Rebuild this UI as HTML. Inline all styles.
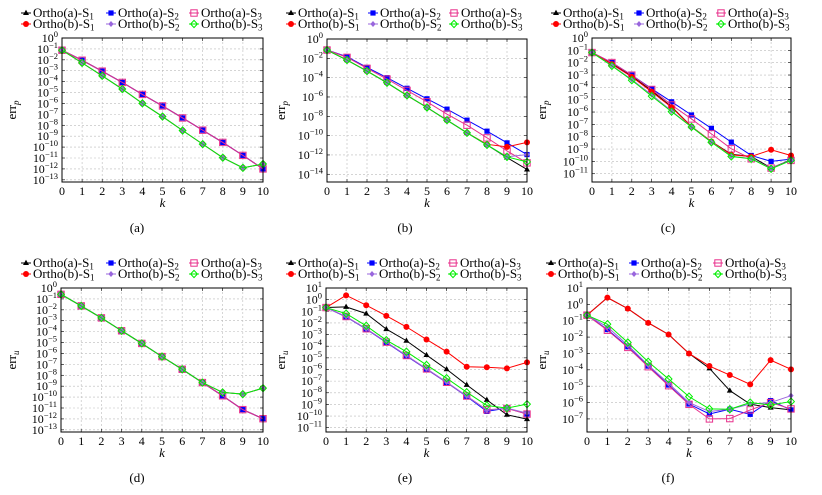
<!DOCTYPE html>
<html><head><meta charset="utf-8"><style>
html,body{margin:0;padding:0;background:#fff;}
svg, svg text{font-family:"Liberation Serif","DejaVu Serif",serif;}
</style></head><body>
<svg id="fig" width="822" height="490" viewBox="0 0 822 490" xmlns="http://www.w3.org/2000/svg" font-family="Liberation Serif, serif"></svg>
<script>
const kValues=[0,1,2,3,4,5,6,7,8,9,10];
const seriesNames=["Ortho(a)-S","Ortho(a)-S","Ortho(a)-S","Ortho(b)-S","Ortho(b)-S","Ortho(b)-S"];
const seriesSubs=["1","2","3","1","2","3"];
const panelA_aS1=[-1.12,-2.04,-3.04,-4.07,-5.17,-6.23,-7.33,-8.45,-9.57,-10.76,-12.0];
const panelA_aS2=[-1.12,-2.04,-3.04,-4.07,-5.17,-6.23,-7.33,-8.45,-9.57,-10.76,-12.0];
const panelA_aS3=[-1.12,-2.04,-3.04,-4.07,-5.17,-6.23,-7.33,-8.45,-9.57,-10.76,-12.0];
const panelA_bS1=[-1.12,-2.28,-3.47,-4.68,-5.99,-7.2,-8.48,-9.73,-10.97,-11.9,-11.55];
const panelA_bS2=[-1.12,-2.28,-3.47,-4.68,-5.99,-7.2,-8.48,-9.73,-10.97,-11.9,-11.55];
const panelA_bS3=[-1.12,-2.28,-3.47,-4.68,-5.99,-7.2,-8.48,-9.73,-10.97,-11.9,-11.55];
const panelB_aS1=[-1.14,-2.18,-3.32,-4.53,-5.84,-7.09,-8.4,-9.71,-10.96,-12.27,-13.5];
const panelB_aS2=[-1.14,-1.83,-2.94,-4.0,-5.1,-6.19,-7.26,-8.4,-9.54,-10.75,-11.96];
const panelB_aS3=[-1.14,-1.9,-3.04,-4.15,-5.32,-6.5,-7.78,-8.92,-10.23,-11.58,-12.82];
const panelB_bS1=[-1.14,-2.18,-3.32,-4.53,-5.84,-7.09,-8.4,-9.71,-10.9,-11.16,-10.7];
const panelB_bS2=[-1.14,-2.18,-3.32,-4.53,-5.84,-7.09,-8.4,-9.71,-10.96,-12.2,-11.96];
const panelB_bS3=[-1.14,-2.18,-3.32,-4.53,-5.84,-7.09,-8.4,-9.71,-10.96,-12.2,-12.72];
const panelC_aS1=[-1.18,-2.07,-3.09,-4.28,-5.57,-7.18,-8.39,-9.42,-9.6,-10.54,-9.87];
const panelC_aS2=[-1.18,-1.99,-3.01,-4.12,-5.17,-6.24,-7.32,-8.44,-9.52,-10.0,-9.82];
const panelC_aS3=[-1.18,-1.99,-3.01,-4.17,-5.43,-6.56,-7.77,-8.98,-9.79,-10.54,-9.92];
const panelC_bS1=[-1.18,-2.12,-3.15,-4.36,-5.62,-7.18,-8.39,-9.47,-9.6,-9.06,-9.52];
const panelC_bS2=[-1.18,-2.23,-3.37,-4.6,-5.92,-7.2,-8.43,-9.58,-9.77,-10.58,-9.9];
const panelC_bS3=[-1.18,-2.26,-3.42,-4.71,-5.97,-7.21,-8.45,-9.6,-9.79,-10.6,-9.92];
const panelD_aS1=[-0.58,-1.64,-2.74,-3.92,-5.08,-6.29,-7.45,-8.67,-9.88,-11.15,-11.98];
const panelD_aS2=[-0.58,-1.64,-2.74,-3.92,-5.08,-6.29,-7.45,-8.67,-9.88,-11.15,-11.98];
const panelD_aS3=[-0.58,-1.64,-2.74,-3.92,-5.08,-6.29,-7.45,-8.67,-9.88,-11.15,-11.98];
const panelD_bS1=[-0.58,-1.64,-2.74,-3.92,-5.08,-6.29,-7.45,-8.67,-9.57,-9.73,-9.18];
const panelD_bS2=[-0.58,-1.64,-2.74,-3.92,-5.08,-6.29,-7.45,-8.67,-9.57,-9.73,-9.18];
const panelD_bS3=[-0.58,-1.64,-2.74,-3.92,-5.08,-6.29,-7.45,-8.67,-9.57,-9.73,-9.18];
const panelE_aS1=[-0.68,-0.62,-1.2,-2.53,-3.53,-4.76,-5.98,-7.32,-8.61,-9.89,-10.26];
const panelE_aS2=[-0.68,-1.48,-2.53,-3.68,-4.84,-5.98,-7.12,-8.32,-9.6,-9.32,-9.83];
const panelE_aS3=[-0.68,-1.45,-2.5,-3.65,-4.8,-5.95,-7.1,-8.28,-9.46,-9.35,-9.83];
const panelE_bS1=[-0.68,0.37,-0.48,-1.39,-2.34,-3.42,-4.47,-5.76,-5.81,-5.9,-5.39];
const panelE_bS2=[-0.68,-1.45,-2.5,-3.64,-4.8,-5.93,-7.08,-8.28,-9.5,-9.32,-9.75];
const panelE_bS3=[-0.68,-1.2,-2.25,-3.48,-4.47,-5.61,-6.75,-7.95,-9.09,-9.32,-8.98];
const panelF_aS1=[-0.66,0.41,-0.26,-1.13,-1.84,-3.0,-3.91,-5.27,-6.1,-6.31,-6.45];
const panelF_aS2=[-0.66,-1.54,-2.59,-3.77,-4.93,-6.09,-6.7,-6.41,-6.72,-5.88,-6.45];
const panelF_aS3=[-0.66,-1.58,-2.63,-3.81,-4.97,-6.11,-7.0,-6.98,-6.45,-6.0,-6.39];
const panelF_bS1=[-0.66,0.41,-0.26,-1.13,-1.84,-3.0,-3.77,-4.32,-4.89,-3.41,-3.97];
const panelF_bS2=[-0.66,-1.38,-2.49,-3.71,-4.83,-6.0,-6.55,-6.41,-6.09,-6.0,-5.58];
const panelF_bS3=[-0.66,-1.21,-2.33,-3.51,-4.56,-5.64,-6.39,-6.41,-6.0,-6.15,-5.94];
const ticksA=[0,-1,-2,-3,-4,-5,-6,-7,-8,-9,-10,-11,-12,-13];
const ticksB=[0,-2,-4,-6,-8,-10,-12,-14];
const ticksC=[0,-1,-2,-3,-4,-5,-6,-7,-8,-9,-10,-11];
const ticksE=[1,0,-1,-2,-3,-4,-5,-6,-7,-8,-9,-10,-11];
const ticksF=[1,0,-1,-2,-3,-4,-5,-6,-7];

const NS="http://www.w3.org/2000/svg";
const FONT='"Liberation Serif", serif';
const svg=document.getElementById('fig');
function mk(tag,attrs,parent){const e=document.createElementNS(NS,tag);for(const k in attrs)e.setAttribute(k,attrs[k]);if(tag==='text')e.setAttribute('font-family',FONT);(parent||svg).appendChild(e);return e;}
const colors=["#000","#0000ff","#e8308c","#ff0000","#9966dd","#00ee00"];
const markerKinds=["tri","sq","osq","circ","diam","odiam"];
function marker(g,kind,x,y,c){
  let e;
  if(kind==="tri")e=mk('polygon',{points:`${x},${y-3.2} ${x-3},${y+2} ${x+3},${y+2}`,fill:c},g);
  else if(kind==="sq")e=mk('rect',{x:x-2.6,y:y-2.6,width:5.2,height:5.2,fill:c},g);
  else if(kind==="osq")e=mk('rect',{x:x-3.2,y:y-3.2,width:6.4,height:6.4,fill:"none",stroke:c,"stroke-width":1},g);
  else if(kind==="circ")e=mk('circle',{cx:x,cy:y,r:3,fill:c},g);
  else if(kind==="diam")e=mk('polygon',{points:`${x},${y-3} ${x+2.6},${y} ${x},${y+3} ${x-2.6},${y}`,fill:c},g);
  else e=mk('polygon',{points:`${x},${y-3.6} ${x+3.4},${y} ${x},${y+3.6} ${x-3.4},${y}`,fill:"none",stroke:c,"stroke-width":1},g);
  return e;
}
function panel(p){
  const g=mk('g',{});
  
  
  const L=p.x0,R=p.x1,T=p.y0,B=p.y1;
  const xs=k=>L+(R-L)*k/10;
  const ys=v=>T+(p.ymax-v)/(p.ymax-p.ymin)*(B-T);
  kValues.forEach(k=>{if(k>0&&k<10){const l=mk('line',{x1:xs(k),x2:xs(k),y1:T,y2:B,stroke:"#bbb","stroke-dasharray":"2,2","stroke-width":0.6},g);}});
  p.ticks.forEach(t=>{const y=ys(t);if(y>T+0.5&&y<B-0.5){const l=mk('line',{x1:L,x2:R,y1:y,y2:y,stroke:"#bbb","stroke-dasharray":"2,2","stroke-width":0.6},g);}});
  p.ticks.forEach(t=>{
    const y=ys(t);
    const tx=mk('text',{x:L-4,y:y+4,"text-anchor":"end","font-size":12},g);
    
    
    const a=mk('tspan',{},tx);a.textContent="10";
    const b=mk('tspan',{dy:-5,"font-size":8.5},tx);b.textContent=(t<0?"\u2212"+(-t):String(t));
    mk('line',{x1:L,x2:L+3,y1:y,y2:y,stroke:"#000","stroke-width":0.6},g);
    mk('line',{x1:R,x2:R-3,y1:y,y2:y,stroke:"#000","stroke-width":0.6},g);
  });
  kValues.forEach(k=>{
    const tx=mk('text',{x:xs(k),y:B+13,"text-anchor":"middle","font-size":12},g);
    
    
    tx.textContent=String(k);
    mk('line',{x1:xs(k),x2:xs(k),y1:B,y2:B-3,stroke:"#000","stroke-width":0.6},g);
    mk('line',{x1:xs(k),x2:xs(k),y1:T,y2:T+3,stroke:"#000","stroke-width":0.6},g);
  });
  p.data.forEach((arr,si)=>{
    const sg=mk('g',{},g);
    
    
    const pts=arr.map((v,i)=>xs(kValues[i])+","+ys(v)).join(" ");
    const pl=mk('polyline',{points:pts,fill:"none",stroke:colors[si],"stroke-width":1},sg);
    
    
    arr.forEach((v,i)=>{const m=marker(sg,markerKinds[si],xs(kValues[i]),ys(v),colors[si]);
      
      });
  });
  const fr=mk('rect',{x:L,y:T,width:R-L,height:B-T,fill:"none",stroke:"#000","stroke-width":1},g);
  
  
  const yl=mk('text',{x:0,y:0,"font-size":13,"text-anchor":"middle",transform:`translate(${p.ylx},${(T+B)/2}) rotate(-90)`},g);
  
  
  const y1=mk('tspan',{},yl);y1.textContent="err";
  const y2=mk('tspan',{dy:3,"font-size":9,"font-style":"italic"},yl);y2.textContent=p.sub;
  const xl=mk('text',{x:(L+R)/2,y:B+25,"font-size":13,"font-style":"italic","text-anchor":"middle"},g);
  
  
  xl.textContent="k";
  const cap=mk('text',{x:p.capx,y:p.capy,"font-size":13,"text-anchor":"middle"},g);
  
  
  cap.textContent="("+p.id+")";
  const lg=mk('g',{},g);
  
  
  for(let si=0;si<6;si++){
    const col=si%3,row=Math.floor(si/3);
    const mx=p.leg[col],ly=p.legy+row*11;
    const eg=mk('g',{},lg);
    
    
    mk('line',{x1:mx-5,x2:mx+5,y1:ly,y2:ly,stroke:colors[si],"stroke-width":1},eg);
    marker(eg,markerKinds[si],mx,ly,colors[si]);
    const t=mk('text',{x:mx+7,y:ly+4,"font-size":13},eg);
    const a=mk('tspan',{},t);a.textContent=seriesNames[si];
    const b=mk('tspan',{dy:2.5,"font-size":9},t);b.textContent=seriesSubs[si];
  }
}
panel({id:"a",x0:62,x1:263,y0:38,y1:182,ymax:0,ymin:-13.2,ticks:ticksA,sub:"p",ylx:16,capx:137,capy:232,leg:[26,111,194],legy:13,
  data:[panelA_aS1,panelA_aS2,panelA_aS3,panelA_bS1,panelA_bS2,panelA_bS3]});
panel({id:"b",x0:327,x1:527,y0:39,y1:182,ymax:0,ymin:-14.8,ticks:ticksB,sub:"p",ylx:285,capx:405,capy:232,leg:[291,373,454],legy:13,
  data:[panelB_aS1,panelB_aS2,panelB_aS3,panelB_bS1,panelB_bS2,panelB_bS3]});
panel({id:"c",x0:592,x1:791,y0:38,y1:182,ymax:0,ymin:-11.67,ticks:ticksC,sub:"p",ylx:546,capx:668,capy:232,leg:[556,639,721],legy:13,
  data:[panelC_aS1,panelC_aS2,panelC_aS3,panelC_bS1,panelC_bS2,panelC_bS3]});
panel({id:"d",x0:61,x1:263,y0:288,y1:432,ymax:0,ymin:-13.2,ticks:ticksA,sub:"u",ylx:16,capx:137,capy:482,leg:[26,111,194],legy:263,
  data:[panelD_aS1,panelD_aS2,panelD_aS3,panelD_bS1,panelD_bS2,panelD_bS3]});
panel({id:"e",x0:326,x1:527,y0:288,y1:432,ymax:1,ymin:-11.37,ticks:ticksE,sub:"u",ylx:285,capx:405,capy:482,leg:[291,372,453],legy:263,
  data:[panelE_aS1,panelE_aS2,panelE_aS3,panelE_bS1,panelE_bS2,panelE_bS3]});
panel({id:"f",x0:587,x1:791,y0:288,y1:432,ymax:1,ymin:-7.8,ticks:ticksF,sub:"u",ylx:546,capx:668,capy:482,leg:[551,634,718],legy:263,
  data:[panelF_aS1,panelF_aS2,panelF_aS3,panelF_bS1,panelF_bS2,panelF_bS3]});
</script>
</body></html>
